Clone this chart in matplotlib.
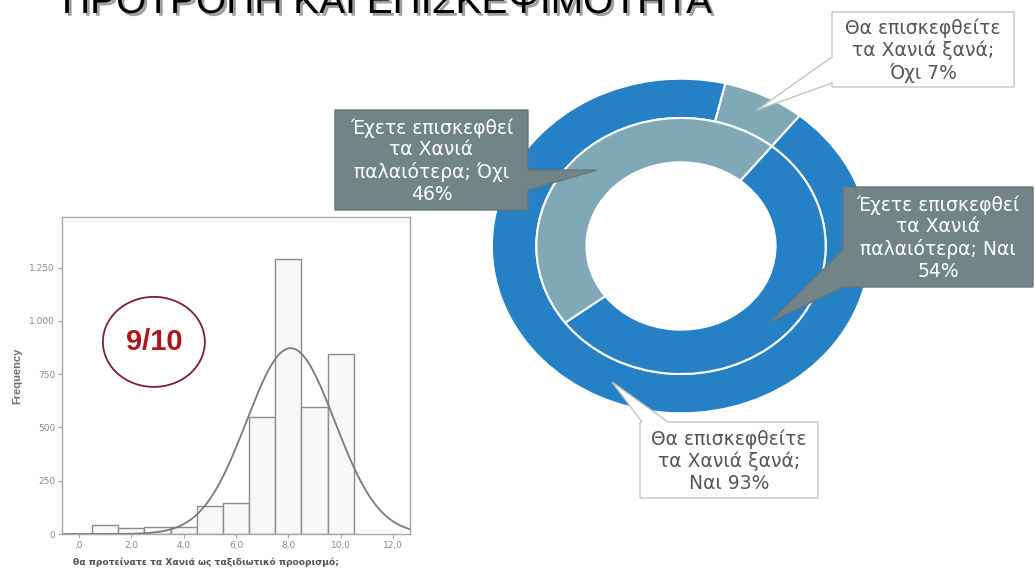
"""
Slide: recommendation score histogram + doughnut of visited-before / visit-again.
"""
import matplotlib

matplotlib.use("Agg")
import matplotlib.patheffects as pe
import matplotlib.pyplot as plt
import numpy as np
from matplotlib.patches import Ellipse, Polygon

TITLE = "ΠΡΟΤΡΟΠΗ ΚΑΙ ΕΠΙΣΚΕΨΙΜΟΤΗΤΑ"

# --- histogram: "would you recommend Chania" score ---------------------------
SCORES = [1, 2, 3, 4, 5, 6, 7, 8, 9, 10]
COUNTS = [40, 27, 33, 31, 130, 146, 550, 1293, 594, 846]
X_TICKS = [0, 2, 4, 6, 8, 10, 12]
X_TICK_LABELS = [",0", "2,0", "4,0", "6,0", "8,0", "10,0", "12,0"]
Y_TICKS = [0, 250, 500, 750, 1000, 1250]
Y_TICK_LABELS = ["0", "250", "500", "750", "1.000", "1.250"]
X_LABEL = "θα προτείνατε τα Χανιά ως ταξιδιωτικό προορισμό;"
Y_LABEL = "Frequency"
SCORE_BADGE = "9/10"

# --- doughnut: outer ring = visit again, inner ring = visited before ----------
RING_LABELS = ["Ναι", "Όχι"]
VISIT_AGAIN = [93, 7]
VISITED_BEFORE = [54, 46]
Q_AGAIN = "Θα επισκεφθείτε\nτα Χανιά ξανά;"
Q_BEFORE = "Έχετε επισκεφθεί\nτα Χανιά\nπαλαιότερα;"

BLUE = "#2680c6"
LIGHT = "#80a8b6"
BOX_GRAY = "#738486"

W, H = 1035, 569
fig = plt.figure(figsize=(W / 100, H / 100), dpi=100)


def px_axes(left, top, right, bottom):
    """Axes rectangle from pixel edges (y measured from the top)."""
    return fig.add_axes([left / W, 1 - bottom / H, (right - left) / W, (bottom - top) / H])


# --- title (mostly cut off by the top edge, as on the slide) -----------------
fig.text(62 / W, 1 - 13 / H, TITLE, fontsize=28, family="Liberation Sans",
         ha="left", va="baseline", color="black",
         path_effects=[pe.SimplePatchShadow(offset=(2, -2), shadow_rgbFace="#777777", alpha=0.7),
                       pe.Normal()])

# --- histogram ---------------------------------------------------------------
ax = px_axes(62, 217, 410, 534)
ax.bar(SCORES, COUNTS, width=1, facecolor="#f8f8f8", edgecolor="#8c8c8c", linewidth=1)

scores = np.array(SCORES, dtype=float)
counts = np.array(COUNTS, dtype=float)
n = counts.sum()
mean = np.average(scores, weights=counts)
sd = np.sqrt(np.sum(counts * (scores - mean) ** 2) / (n - 1))
xs = np.linspace(-0.65, 12.65, 400)
ax.plot(xs, n * np.exp(-0.5 * ((xs - mean) / sd) ** 2) / (sd * np.sqrt(2 * np.pi)),
        color="#7a7a7a", linewidth=1.3)

ax.set_xlim(-0.65, 12.65)
ax.set_ylim(0, 1488)
ax.set_xticks(X_TICKS, X_TICK_LABELS)
ax.set_yticks(Y_TICKS, Y_TICK_LABELS)
ax.tick_params(length=3, width=0.8, color="#a6a6a6", labelsize=6.5, labelcolor="#8a8a8a", pad=2)
for s in ax.spines.values():
    s.set_color("#a6a6a6")
    s.set_linewidth(1)
ax.text(-0.129, 0.5, Y_LABEL, transform=ax.transAxes, rotation=90, ha="center", va="center",
        fontsize=8, fontweight="bold", color="#6e6e6e", family="Liberation Sans")
ax.text(0.414, -0.088, X_LABEL, transform=ax.transAxes, ha="center", va="center",
        fontsize=6.6, fontweight="bold", color="#555555", family="DejaVu Sans")

ax.add_patch(Ellipse((0.264, 0.606), 0.293, 0.284, transform=ax.transAxes,
                     fill=False, edgecolor="#7a1e3c", linewidth=1.3))
ax.text(0.264, 0.606, SCORE_BADGE, transform=ax.transAxes, ha="center", va="center",
        fontsize=21, fontweight="bold", color="#b0141c", family="Liberation Sans")

# --- doughnut ----------------------------------------------------------------
ax_d = px_axes(490, 77, 872, 415)
ax_d.pie(VISIT_AGAIN, radius=1, startangle=51.2, counterclock=False, colors=[BLUE, LIGHT],
         wedgeprops=dict(width=0.235, edgecolor="white", linewidth=1.5))
ax_d.pie(VISITED_BEFORE, radius=0.765, startangle=51.2, counterclock=False, colors=[BLUE, LIGHT],
         wedgeprops=dict(width=0.265, edgecolor="white", linewidth=1.5))
ax_d.set_aspect("auto")
ax_d.set_xlim(-1.01, 1.01)
ax_d.set_ylim(-1.01, 1.01)
ax_d.axis("off")

# --- callouts (drawn in pixel space on an overlay) ---------------------------
ov = fig.add_axes([0, 0, 1, 1], zorder=5)
ov.set_xlim(0, W)
ov.set_ylim(H, 0)
ov.axis("off")
ov.patch.set_alpha(0)


def callout(box, side, base, tip, text, face, edge, color):
    x0, y0, x1, y1 = box
    b0, b1 = base
    pts = [(x0, y0)]
    if side == "top":
        pts += [(b0, y0), tip, (b1, y0)]
    pts += [(x1, y0)]
    if side == "right":
        pts += [(x1, b0), tip, (x1, b1)]
    pts += [(x1, y1), (x0, y1)]
    if side == "left":
        pts += [(x0, b1), tip, (x0, b0)]
    ov.add_patch(Polygon(pts, closed=True, facecolor=face, edgecolor=edge,
                         linewidth=1, joinstyle="miter"))
    ov.text((x0 + x1) / 2, (y0 + y1) / 2 + 1, text, ha="center", va="center",
            fontsize=13.5, color=color, family="DejaVu Sans", linespacing=1.17)


ja, oxi = RING_LABELS
callout((335, 110, 528, 210), "right", (170, 190), (597, 170),
        f"{Q_BEFORE} {oxi}\n{VISITED_BEFORE[1]}%", BOX_GRAY, "#66777a", "white")
callout((843, 187, 1033, 287), "left", (250, 287), (770, 322),
        f"{Q_BEFORE} {ja}\n{VISITED_BEFORE[0]}%", BOX_GRAY, "#66777a", "white")
callout((832, 12, 1014, 87), "left", (57, 83), (757, 110),
        f"{Q_AGAIN}\n{oxi} {VISIT_AGAIN[1]}%", "white", "#c4c4c4", "#555555")
callout((640, 422, 818, 498), "top", (642, 668), (612, 382),
        f"{Q_AGAIN}\n{ja} {VISIT_AGAIN[0]}%", "white", "#c4c4c4", "#555555")

fig.savefig("out.png", dpi=100)
